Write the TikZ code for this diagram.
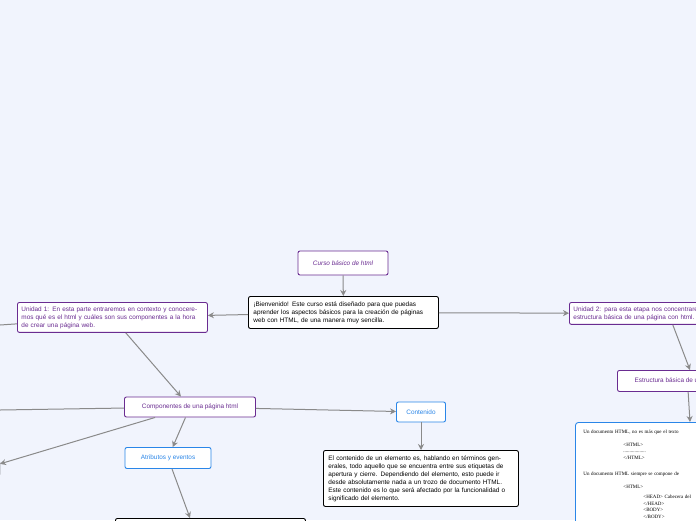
\documentclass[tikz,border=0pt]{standalone}
\usepackage{fontspec}
\setmainfont{Liberation Sans}
\newfontfamily\docfont{Liberation Serif}
\usetikzlibrary{positioning,arrows.meta}
\definecolor{bgblue}{HTML}{F1F4FD}
\definecolor{topicpurple}{HTML}{6A2C91}
\definecolor{topicblue}{HTML}{2A86E8}
\definecolor{linkgrey}{HTML}{8A8A8A}

\begin{document}
\begin{tikzpicture}[x=1pt,y=-1pt,
    topic/.style={draw=topicpurple, fill=white, rounded corners=2pt, line width=0.9pt, text=topicpurple, font=\fontsize{6.4}{8}\selectfont, inner sep=4pt},
    leaf/.style={draw=topicblue, fill=white, rounded corners=2pt, line width=0.9pt, text=topicblue, font=\fontsize{6.4}{8}\selectfont, inner sep=4pt},
    note/.style={draw=black, fill=white, rounded corners=2pt, line width=0.9pt, font=\fontsize{6.4}{8}\selectfont, align=left, inner sep=5pt},
    link/.style={draw=linkgrey, line width=1pt, -{Stealth[length=6pt,width=6pt]}},
    plain/.style={draw=linkgrey, line width=1pt}
]
\useasboundingbox (0,0) rectangle (696,520);
\clip (0,0) rectangle (696,520);
\fill[bgblue] (0,0) rectangle (696,520);

% Central topic
\node[topic, minimum width=90, minimum height=24, font=\fontsize{6.4}{8}\selectfont\itshape] (title) at (343,263) {Curso básico de html};
\node[note, text width=180, anchor=north west] (welcome) at (248,296) {¡Bienvenido! Este curso está diseñado para que puedas aprender los aspectos básicos para la creación de páginas web con HTML, de una manera muy sencilla.};

% Units
\node[topic, text width=182, align=left, anchor=north west] (unit1) at (17,302) {Unidad 1: En esta parte entraremos en contexto y conoceremos qué es el html y cuáles son sus componentes a la hora de crear una página web.};
\node[topic, text width=190, align=left, anchor=north west] (unit2) at (569,302) {Unidad 2: para esta etapa nos concentraremos en conocer la estructura básica de una página con html.};

% Unit 1 branch
\node[topic, minimum width=131, minimum height=20] (parts) at (190,407) {Componentes de una página html};
\node[leaf, minimum width=49, minimum height=20] (content) at (421,412) {Contenido};
\node[leaf, minimum width=86, minimum height=21] (attrs) at (168,458) {Atributos y eventos};
\node[note, text width=185, anchor=north west] (contenttext) at (323,450) {El contenido de un elemento es, hablando en términos generales, todo aquello que se encuentra entre sus etiquetas de apertura y cierre. Dependiendo del elemento, esto puede ir desde absolutamente nada a un trozo de documento HTML. Este contenido es lo que será afectado por la funcionalidad o significado del elemento.};
\node[note, minimum width=190, minimum height=30, anchor=north west] (attrstext) at (115,518) {};
\node[note, minimum width=30, minimum height=16, anchor=north east] (leftleaf) at (0,460) {};
\coordinate (leftout) at (0,410);
\coordinate (leftin) at (0,325);

% Unit 2 branch
\node[topic, minimum width=140, minimum height=21, anchor=north west] (structure) at (617,370) {Estructura básica de una página html};
\node[draw=topicblue, fill=white, rounded corners=3pt, line width=0.9pt, minimum width=160, anchor=north west, inner sep=8pt, text width=150, align=left, font=\docfont\fontsize{5}{6.5}\selectfont] (doc) at (575,422) {Un documento HTML, no es más que el texto\\[6pt]
\hspace*{40pt}<HTML>\\
\hspace*{40pt}..................\\
\hspace*{40pt}</HTML>\\[10pt]
Un documento HTML siempre se compone de\\[6pt]
\hspace*{40pt}<HTML>\\[4pt]
\hspace*{60pt}<HEAD> Cabecera del\\
\hspace*{60pt}</HEAD>\\
\hspace*{60pt}<BODY>\\
\hspace*{60pt}</BODY>\\[4pt]
\hspace*{40pt}</HTML>};

% Connectors
\draw[link] (title) -- (welcome);
\draw[link] (welcome) -- (unit1);
\draw[link] (welcome) -- (unit2);
\draw[plain] (leftin) -- (unit1);
\draw[link] (unit1) -- (parts);
\draw[link] (unit2) -- (structure.north west -| 690,370);
\draw[link] (structure) -- (doc.north -| 690,422);
\draw[link] (parts) -- (content);
\draw[link] (parts) -- (attrs);
\draw[plain] (parts) -- (leftout);
\draw[link] (parts) -- (leftleaf);
\draw[link] (content) -- (contenttext.north -| content);
\draw[link] (attrs) -- (attrstext.north -| 190,518);
\end{tikzpicture}
\end{document}
